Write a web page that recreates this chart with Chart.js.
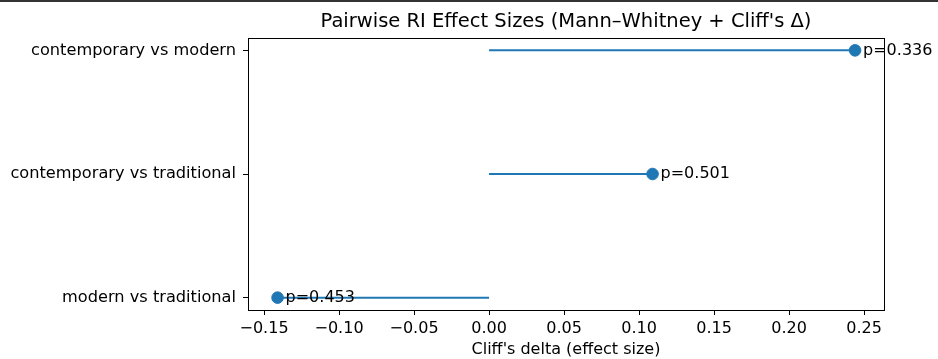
<!DOCTYPE html>
<html>
<head>
<meta charset="utf-8">
<script src="https://cdn.jsdelivr.net/npm/chart.js@4.4.0/dist/chart.umd.min.js"></script>
<style>
  html, body { margin: 0; padding: 0; background: #fff; }
  body { width: 938px; height: 359px; overflow: hidden; position: relative; }
  #topRule { position: absolute; left: 0; top: 0; width: 938px; height: 2px; background: #333; }
  canvas { display: block; }
</style>
</head>
<body>
<div id="topRule"></div>
<canvas id="effectChart" width="938" height="359"></canvas>
<script>
// Pairwise comparisons, bottom to top as drawn
const pairs = ['modern vs traditional', 'contemporary vs traditional', 'contemporary vs modern'];
const cliffsDelta = [-0.141, 0.109, 0.244];
const pValues = ['0.453', '0.501', '0.336'];
const xTicks = [-0.15, -0.10, -0.05, 0.00, 0.05, 0.10, 0.15, 0.20, 0.25];

const titleText = "Pairwise RI Effect Sizes (Mann\u2013Whitney + Cliff's \u0394)";
const blue = '#1f77b4';
const font = 'DejaVu Sans';

// One stem per comparison, from zero out to the effect size.
const stemSets = pairs.map(function (p, i) {
    return {
        type: 'scatter',
        data: [{ x: 0, y: i }, { x: cliffsDelta[i], y: i }],
        showLine: true,
        borderColor: blue,
        borderWidth: 2,
        pointRadius: 0,
        order: 2
    };
});

const dotSet = {
    type: 'scatter',
    data: pairs.map(function (p, i) { return { x: cliffsDelta[i], y: i }; }),
    backgroundColor: blue,
    borderColor: blue,
    pointRadius: 5.8,
    pointHoverRadius: 5.8,
    order: 1
};

// Title over the plot area, frame and p-value labels
const extrasPlugin = {
    id: 'extras',
    afterDatasetsDraw: function (chart) {
        const ctx = chart.ctx;
        const a = chart.chartArea;
        const xs = chart.scales.x, ys = chart.scales.y;
        ctx.save();
        ctx.fillStyle = '#000';
        ctx.font = '16px "' + font + '"';
        ctx.textAlign = 'left';
        ctx.textBaseline = 'middle';
        pairs.forEach(function (p, i) {
            ctx.fillText('p=' + pValues[i], xs.getPixelForValue(cliffsDelta[i]) + 8, ys.getPixelForValue(i));
        });
        ctx.font = '19.5px "' + font + '"';
        ctx.textAlign = 'center';
        ctx.fillText(titleText, (a.left + a.right) / 2, 22);
        ctx.strokeStyle = '#000';
        ctx.lineWidth = 1;
        ctx.strokeRect(Math.round(a.left) + 0.5, Math.round(a.top) + 0.5,
            Math.round(a.right - a.left), Math.round(a.bottom - a.top));
        ctx.restore();
    }
};

new Chart(document.getElementById('effectChart'), {
    data: { datasets: stemSets.concat([dotSet]) },
    options: {
        responsive: false,
        animation: false,
        events: [],
        layout: { padding: { left: 0, right: 54, top: 38, bottom: 0 } },
        plugins: {
            legend: { display: false },
            tooltip: { enabled: false },
            title: { display: false }
        },
        scales: {
            x: {
                type: 'linear',
                min: -0.1607,
                max: 0.2633,
                afterBuildTicks: function (s) { s.ticks = xTicks.map(function (v) { return { value: v }; }); },
                afterFit: function (s) { s.height = 49; },
                ticks: {
                    color: '#000',
                    font: { family: font, size: 16 },
                    padding: 4,
                    maxRotation: 0,
                    callback: function (v) { return v.toFixed(2).replace('-', '\u2212'); }
                },
                grid: { drawOnChartArea: false, color: '#000', tickLength: 5, tickWidth: 1 },
                border: { display: true, color: '#000' },
                title: {
                    display: true,
                    text: "Cliff's delta (effect size)",
                    color: '#000',
                    font: { family: font, size: 16 },
                    padding: { top: 0, bottom: 0 }
                }
            },
            y: {
                type: 'linear',
                min: -0.1,
                max: 2.1,
                afterBuildTicks: function (s) { s.ticks = pairs.map(function (p, i) { return { value: i }; }); },
                afterFit: function (s) { s.width = 248; },
                ticks: {
                    color: '#000',
                    font: { family: font, size: 16.2 },
                    padding: 7,
                    callback: function (v) { return pairs[v]; }
                },
                grid: { drawOnChartArea: false, color: '#000', tickLength: 5, tickWidth: 1 },
                border: { display: true, color: '#000' }
            }
        }
    },
    plugins: [extrasPlugin]
});
</script>
</body>
</html>
